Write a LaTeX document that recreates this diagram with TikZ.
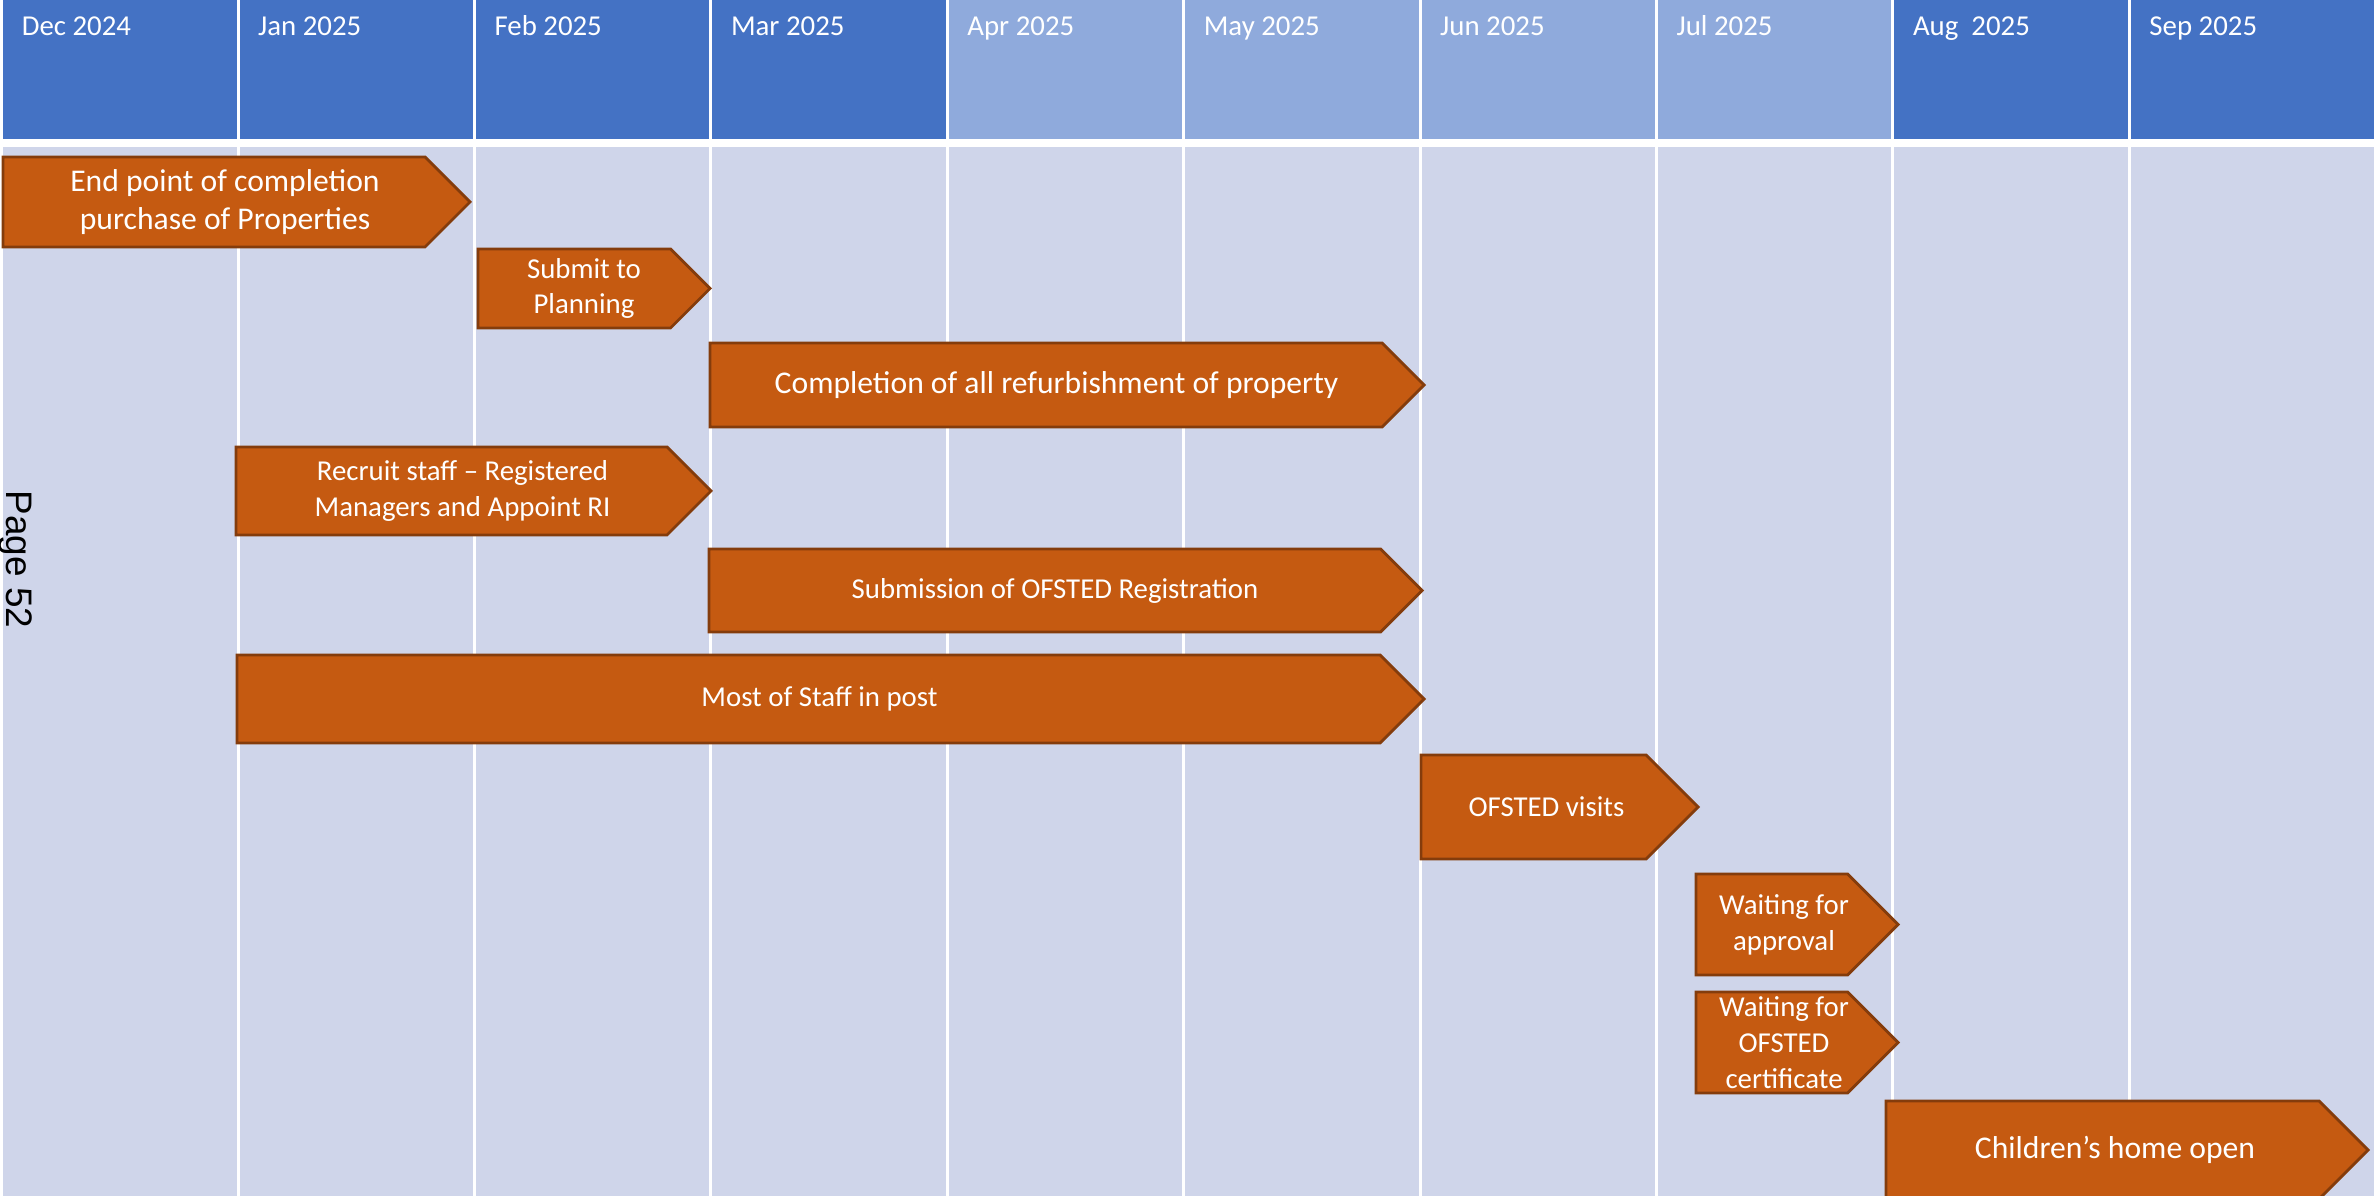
\documentclass[tikz,border=0pt]{standalone}
\usepackage{fontspec}
\setmainfont{Carlito}
\newfontfamily\pagefont{Liberation Sans}
\usepackage{tikz}
\usetikzlibrary{positioning}
\definecolor{hdrdark}{HTML}{4472C4}
\definecolor{hdrlight}{HTML}{8FAADC}
\definecolor{cellfill}{HTML}{CFD5EA}
\definecolor{barfill}{HTML}{C55A11}
\definecolor{baredge}{HTML}{843C0C}

\begin{document}
\begin{tikzpicture}[
  hdr/.style={font=\fontsize{8.2}{10}\selectfont,text=white,anchor=base west,inner sep=0pt},
  gbar/.style={fill=barfill,draw=baredge,line width=0.8pt,line join=miter},
  bigtxt/.style={font=\fontsize{9}{11}\selectfont,text=white,align=center,inner sep=0pt},
  smalltxt/.style={font=\fontsize{8.2}{10.2}\selectfont,text=white,align=center,inner sep=0pt}
]
  \useasboundingbox (0,0) rectangle (23.74,-11.96);
  % month columns
  \foreach \lab/\col [count=\i from 0] in {Dec 2024/hdrdark,Jan 2025/hdrdark,Feb 2025/hdrdark,
      Mar 2025/hdrdark,Apr 2025/hdrlight,May 2025/hdrlight,Jun 2025/hdrlight,
      Jul 2025/hdrlight,Aug\ \ 2025/hdrdark,Sep 2025/hdrdark} {
    \pgfmathsetmacro\xl{0.031+2.364*\i}
    \pgfmathsetmacro\xr{\i==9 ? 23.74 : 0.001+2.364*(\i+1)}
    \fill[\col] (\xl,0) rectangle (\xr,-1.39);
    \fill[cellfill] (\xl,-1.47) rectangle (\xr,-11.96);
    \node[hdr] (m\i) at (\xl+0.18,-0.355) {\lab};
  }
  \node[font=\pagefont\fontsize{10.5}{12}\selectfont,rotate=-90,anchor=base west,inner sep=0pt]
    (pg) at (0.07,-4.90) {Page 52};
  % tasks
  \draw[gbar] (0.03,-1.57) -- (4.25,-1.57) -- (4.70,-2.02) -- (4.25,-2.47) -- (0.03,-2.47) -- cycle;
  \node[bigtxt] (endpt) at (2.25,-2.02) {End point of completion\\purchase of Properties};
  \draw[gbar] (4.78,-2.49) -- (6.705,-2.49) -- (7.10,-2.885) -- (6.705,-3.28) -- (4.78,-3.28) -- cycle;
  \node[smalltxt] (plan) at (5.84,-2.885) {Submit to\\Planning};
  \draw[gbar] (7.10,-3.43) -- (13.82,-3.43) -- (14.24,-3.85) -- (13.82,-4.27) -- (7.10,-4.27) -- cycle;
  \node[bigtxt] (refurb) at (10.565,-3.85) {Completion of all refurbishment of property};
  \draw[gbar] (2.36,-4.47) -- (6.67,-4.47) -- (7.11,-4.91) -- (6.67,-5.35) -- (2.36,-5.35) -- cycle;
  \node[smalltxt] (recruit) at (4.625,-4.91) {Recruit staff – Registered\\Managers and Appoint RI};
  \draw[gbar] (7.09,-5.49) -- (13.805,-5.49) -- (14.22,-5.905) -- (13.805,-6.32) -- (7.09,-6.32) -- cycle;
  \node[smalltxt] (ofreg) at (10.55,-5.905) {Submission of OFSTED Registration};
  \draw[gbar] (2.37,-6.55) -- (13.80,-6.55) -- (14.24,-6.99) -- (13.80,-7.43) -- (2.37,-7.43) -- cycle;
  \node[smalltxt] (staff) at (8.195,-6.99) {Most of Staff in post};
  \draw[gbar] (14.21,-7.55) -- (16.46,-7.55) -- (16.98,-8.07) -- (16.46,-8.59) -- (14.21,-8.59) -- cycle;
  \node[smalltxt] (visits) at (15.465,-8.07) {OFSTED visits};
  \draw[gbar] (16.96,-8.74) -- (18.475,-8.74) -- (18.98,-9.245) -- (18.475,-9.75) -- (16.96,-9.75) -- cycle;
  \node[smalltxt] (approv) at (17.84,-9.245) {Waiting for\\approval};
  \draw[gbar] (16.96,-9.92) -- (18.475,-9.92) -- (18.98,-10.425) -- (18.475,-10.93) -- (16.96,-10.93) -- cycle;
  \node[smalltxt] (cert) at (17.84,-10.425) {Waiting for\\OFSTED\\certificate};
  \draw[gbar] (18.86,-11.01) -- (23.19,-11.01) -- (23.68,-11.50) -- (23.19,-11.99) -- (18.86,-11.99) -- cycle;
  \node[bigtxt] (open) at (21.15,-11.50) {Children’s home open};
\end{tikzpicture}
\end{document}
